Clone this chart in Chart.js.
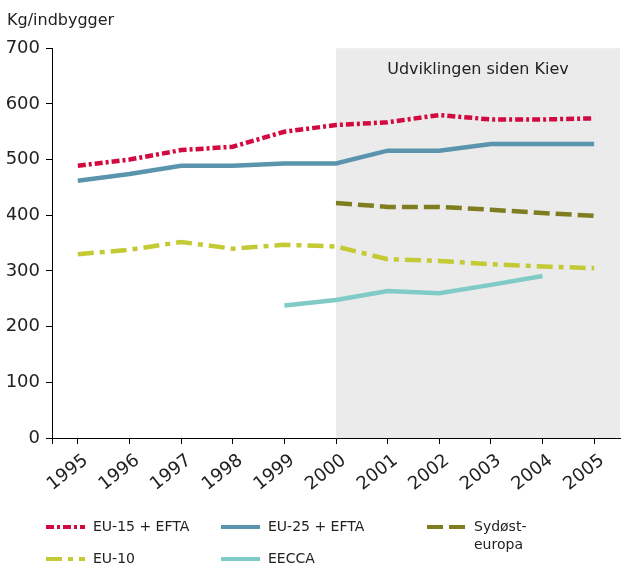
<!DOCTYPE html>
<html>
<head>
<meta charset="utf-8">
<script src="https://cdn.jsdelivr.net/npm/chart.js@4"></script>
<style>
  html, body { margin: 0; padding: 0; background: #ffffff; }
  #wrap { width: 636px; height: 565px; }
</style>
</head>
<body>
<div id="wrap"><canvas id="c" width="636" height="565"></canvas></div>
<script>
// ---- data ----
const years = ['1995','1996','1997','1998','1999','2000','2001','2002','2003','2004','2005'];
const eu15Efta = [489, 500, 517, 523, 550, 562, 567, 580, 572, 572, 574];
const eu25Efta = [462, 474, 489, 489, 493, 493, 516, 516, 528, 528, 528];
const sydosteuropa = [null, null, null, null, null, 422, 415, 415, 410, 404, 399];
const eu10 = [330, 338, 352, 340, 347, 344, 321, 318, 312, 308, 305];
const eecca = [null, null, null, null, 238, 248, 264, 260, 275, 291, null];
const yTickValues = [0, 100, 200, 300, 400, 500, 600, 700];
const seriesNames = ['EU-15 + EFTA', 'EU-25 + EFTA', 'Sydøst-\neuropa', 'EU-10', 'EECCA'];
const unitLabel = 'Kg/indbygger';
const shadeFrom = '2000';
const shadeLabel = 'Udviklingen siden Kiev';

const FONT = '"DejaVu Sans", Verdana, sans-serif';
const TXT = '#222222';

const styles = [
  { color: '#d20a40', dash: [8, 3, 3, 3] },
  { color: '#5b94ad', dash: [] },
  { color: '#7e7e20', dash: [16, 6] },
  { color: '#c3ca33', dash: [16, 6, 5, 6] },
  { color: '#80cbc6', dash: [] }
];
const seriesData = [eu15Efta, eu25Efta, sydosteuropa, eu10, eecca];

const datasets = seriesData.map((d, i) => ({
  label: seriesNames[i],
  data: d,
  borderColor: styles[i].color,
  backgroundColor: styles[i].color,
  borderDash: styles[i].dash,
  borderWidth: 4.5,
  pointRadius: 0,
  pointHoverRadius: 0,
  tension: 0,
  fill: false,
  spanGaps: false
}));

// legend slots (layout only)
const legendSlots = [
  { x: 46, y: 527 }, { x: 221, y: 527 }, { x: 427, y: 527 },
  { x: 46, y: 559 }, { x: 221, y: 559 }
];

const shadePlugin = {
  id: 'shade',
  beforeDraw(chart) {
    const { ctx, chartArea, scales } = chart;
    const x0 = scales.x.getPixelForValue(years.indexOf(shadeFrom));
    ctx.save();
    ctx.fillStyle = '#ebebeb';
    ctx.fillRect(x0, chartArea.top, chartArea.right - x0, chartArea.bottom - chartArea.top);
    ctx.fillStyle = TXT;
    ctx.font = '16px ' + FONT;
    ctx.textAlign = 'center';
    ctx.textBaseline = 'middle';
    ctx.fillText(shadeLabel, (x0 + chartArea.right) / 2, chartArea.top + 22);
    ctx.restore();
  }
};

const legendPlugin = {
  id: 'customLegend',
  afterDraw(chart) {
    const { ctx, chartArea } = chart;
    ctx.save();
    // small axis extension below the origin
    ctx.strokeStyle = '#000';
    ctx.lineWidth = 1;
    ctx.beginPath();
    ctx.moveTo(chartArea.left + 0.5, chartArea.bottom);
    ctx.lineTo(chartArea.left + 0.5, chartArea.bottom + 6);
    ctx.stroke();
    chart.data.datasets.forEach((ds, i) => {
      const s = legendSlots[i];
      ctx.strokeStyle = ds.borderColor;
      ctx.lineWidth = 4;
      ctx.setLineDash(ds.borderDash || []);
      ctx.beginPath();
      ctx.moveTo(s.x, s.y);
      ctx.lineTo(s.x + 39, s.y);
      ctx.stroke();
      ctx.setLineDash([]);
      ctx.fillStyle = TXT;
      ctx.font = '14px ' + FONT;
      ctx.textAlign = 'left';
      ctx.textBaseline = 'middle';
      ds.label.split('\n').forEach((line, k) => {
        ctx.fillText(line, s.x + 47, s.y + k * 18);
      });
    });
    ctx.restore();
  }
};

new Chart(document.getElementById('c'), {
  type: 'line',
  data: { labels: years, datasets },
  options: {
    responsive: false,
    animation: false,
    devicePixelRatio: 1,
    layout: { padding: { left: 7, right: 16, top: 0, bottom: 70 } },
    plugins: {
      legend: { display: false },
      tooltip: { enabled: false },
      title: {
        display: true,
        text: unitLabel,
        align: 'start',
        color: TXT,
        font: { size: 16, family: FONT, weight: 'normal' },
        padding: { top: 11, bottom: 18 }
      }
    },
    scales: {
      x: {
        type: 'category',
        offset: true,
        grid: { drawOnChartArea: false, drawTicks: true, tickLength: 6, color: '#000', offset: false },
        border: { display: true, color: '#000', width: 1 },
        ticks: {
          color: TXT,
          font: { size: 18, family: FONT },
          maxRotation: 38, minRotation: 38,
          autoSkip: false,
          padding: 6,
          labelOffset: 8
        },
        afterFit(scale) { scale.height = 57; }
      },
      y: {
        min: 0, max: 700,
        afterBuildTicks(scale) { scale.ticks = yTickValues.map(v => ({ value: v })); },
        grid: { drawOnChartArea: false, drawTicks: true, tickLength: 6, color: '#000' },
        border: { display: true, color: '#000', width: 1 },
        ticks: {
          color: TXT,
          font: { size: 18, family: FONT },
          padding: 6
        },
        afterFit(scale) { scale.width = 45; }
      }
    }
  },
  plugins: [shadePlugin, legendPlugin]
});
</script>
</body>
</html>
